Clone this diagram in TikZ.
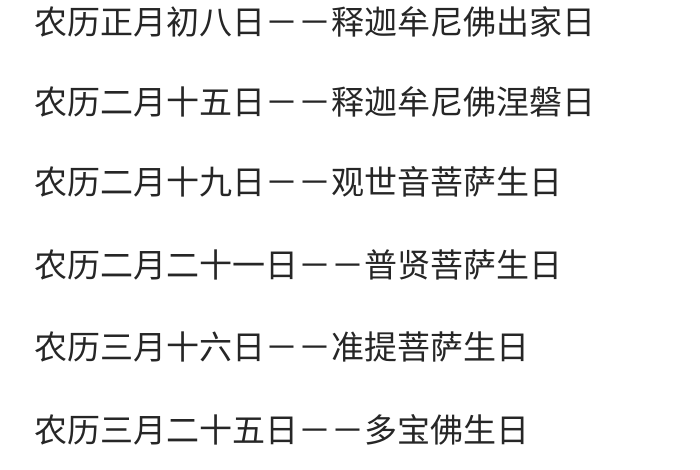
\documentclass[tikz,border=0pt]{standalone}
\usepackage{fontspec}
\setmainfont{Noto Sans CJK SC}
\begin{document}
\begin{tikzpicture}[x=1pt,y=-1pt,line/.style={anchor=west,inner sep=0pt,text=black!85,font=\fontsize{33}{36}\selectfont}]
\useasboundingbox[fill=white] (0,0) rectangle (700,470);
\node[line] (l1) at (34,22) {农历正月初八日－－释迦牟尼佛出家日};
\node[line] (l2) at (34,102) {农历二月十五日－－释迦牟尼佛涅磐日};
\node[line] (l3) at (34,182) {农历二月十九日－－观世音菩萨生日};
\node[line] (l4) at (34,265) {农历二月二十一日－－普贤菩萨生日};
\node[line] (l5) at (34,347) {农历三月十六日－－准提菩萨生日};
\node[line] (l6) at (34,430) {农历三月二十五日－－多宝佛生日};
\end{tikzpicture}
\end{document}
